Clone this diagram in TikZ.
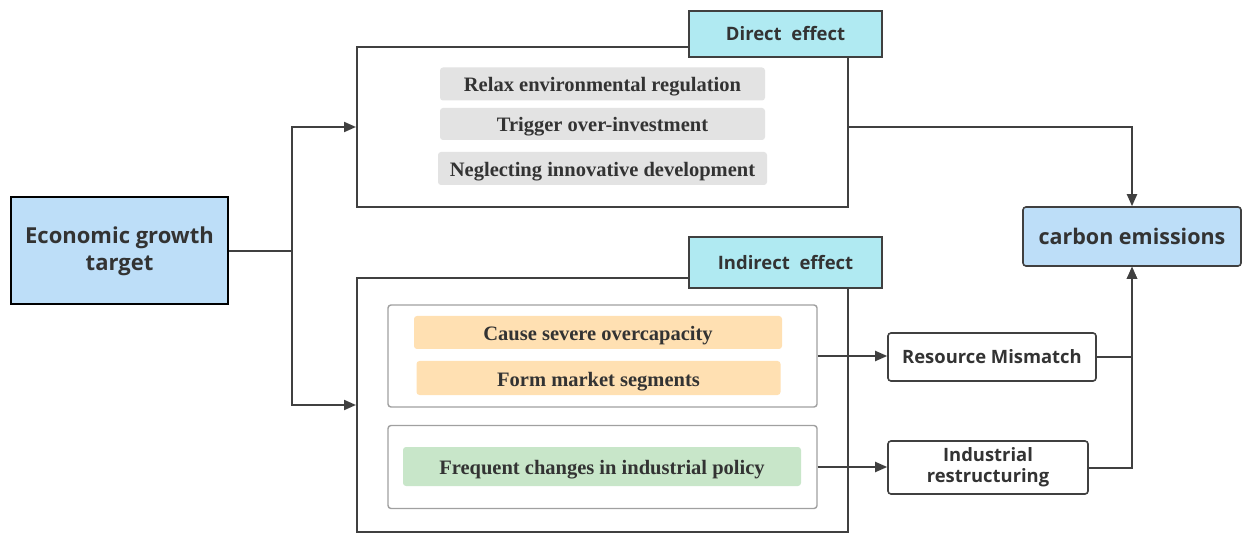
\documentclass[tikz,border=0pt]{standalone}
\usepackage{fontspec}
\setmainfont{Liberation Serif}
\setsansfont{Open Sans}
\usetikzlibrary{arrows.meta}
\definecolor{txt}{HTML}{333333}
\definecolor{lnc}{HTML}{404040}
\definecolor{blueF}{HTML}{BDDEF8}
\definecolor{cyanF}{HTML}{B0EAF2}
\definecolor{grayF}{HTML}{E3E3E3}
\definecolor{orangeF}{HTML}{FFE0B2}
\definecolor{greenF}{HTML}{C8E6C9}
\definecolor{innerB}{HTML}{A0A0A0}
\begin{document}
\begin{tikzpicture}[x=1pt,y=-1pt,
  every node/.style={inner sep=0pt, text=txt, align=center},
  bigbox/.style={draw=lnc, line width=2pt, fill=white},
  lblbox/.style={draw=lnc, line width=2pt, fill=cyanF, font=\sffamily\bfseries\fontsize{18.5}{21}\selectfont},
  innerbox/.style={draw=innerB, line width=1.4pt, rounded corners=3pt, fill=white},
  item/.style={rounded corners=3pt, text height=16pt, text depth=0pt, font=\bfseries\fontsize{20.5}{24}\selectfont},
  sidebox/.style={draw=lnc, line width=1.6pt, rounded corners=3pt, fill=white, font=\sffamily\bfseries\fontsize{18.4}{21}\selectfont},
  conn/.style={draw=lnc, line width=2pt},
  arr/.style={conn, -{Triangle[length=12pt,width=10pt]}}
]
\useasboundingbox (0,0) rectangle (1242,534);

\node[draw=black, line width=2pt, fill=blueF, minimum width=217pt, minimum height=107pt,
  font=\sffamily\bfseries\fontsize{22}{27}\selectfont] (econ) at (119.5,251) {Economic growth\\target};

\node[bigbox, minimum width=491pt, minimum height=160pt] (direct) at (602.5,127) {};
\node[lblbox, minimum width=193pt, minimum height=46pt] (dlbl) at (785.5,34) {Direct\ \ effect};
\node[item, fill=grayF, minimum width=325pt, minimum height=33pt] (g1) at (602.5,84) {Relax environmental regulation};
\node[item, fill=grayF, minimum width=325pt, minimum height=32pt] (g2) at (602.5,124) {Trigger over-investment};
\node[item, fill=grayF, minimum width=329pt, minimum height=33pt] (g3) at (602.5,168.5) {Neglecting innovative development};

\node[bigbox, minimum width=491pt, minimum height=254pt] (indirect) at (602.5,405) {};
\node[lblbox, minimum width=193pt, minimum height=51pt] (ilbl) at (785.5,262.5) {Indirect\ \ effect};
\node[innerbox, minimum width=429pt, minimum height=102pt] (in1) at (602.5,356) {};
\node[item, fill=orangeF, minimum width=368pt, minimum height=33pt] (o1) at (598,332.5) {Cause severe overcapacity};
\node[item, fill=orangeF, minimum width=364pt, minimum height=34pt] (o2) at (598.5,378) {Form market segments};
\node[innerbox, minimum width=429pt, minimum height=83pt] (in2) at (602.5,467) {};
\node[item, fill=greenF, minimum width=398pt, minimum height=39pt] (gr) at (602,466.5) {Frequent changes in industrial policy};

\node[sidebox, minimum width=208pt, minimum height=48pt] (res) at (992,357) {Resource Mismatch};
\node[sidebox, minimum width=200pt, minimum height=53pt] (ind) at (988,467.5) {Industrial\\restructuring};
\node[draw=lnc, line width=1.6pt, rounded corners=3pt, fill=blueF, minimum width=218pt, minimum height=59pt,
  font=\sffamily\bfseries\fontsize{21.5}{25}\selectfont] (carbon) at (1132,236.5) {carbon emissions};

\coordinate (j) at (292,251);
\draw[conn] (econ.east) -- (j);
\draw[arr] (j) |- (direct.west);
\draw[arr] (j) |- (indirect.west);
\draw[arr] (direct.east) -| (carbon.north);
\draw[arr] (in1.east) -- (in1.east -| res.west);
\draw[arr] (in2.east) -- (in2.east -| ind.west);
\draw[arr] (res.east) -| (carbon.south);
\draw[arr] (ind.east) -| (carbon.south);
\end{tikzpicture}
\end{document}
